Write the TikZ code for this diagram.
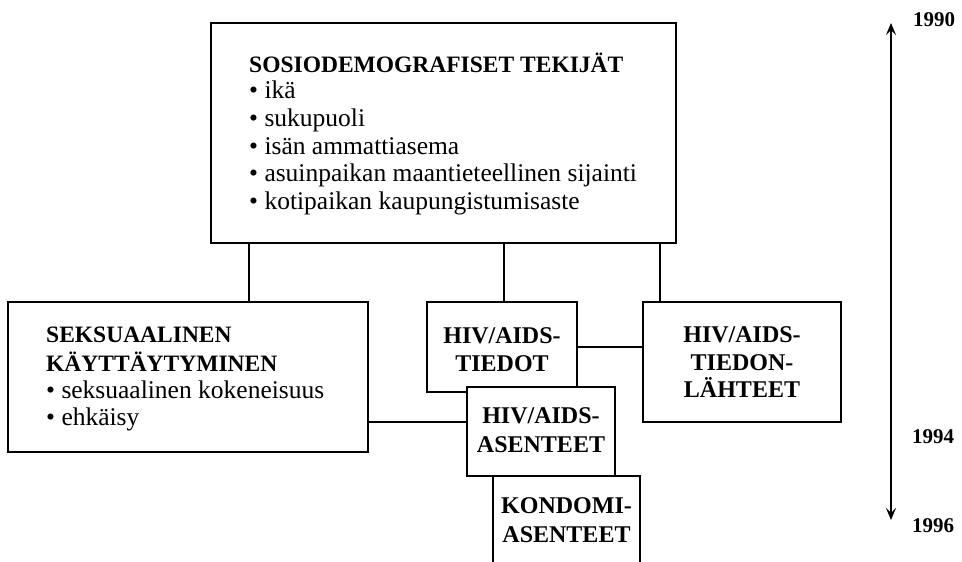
\documentclass[tikz,border=0pt]{standalone}
\usepackage{fontspec}
\setmainfont{Liberation Serif}
\usetikzlibrary{arrows.meta}
\tikzset{
  box/.style={draw, line width=1.4pt, fill=white, inner sep=0pt},
  ttl/.style={font=\bfseries\fontsize{23.5}{26}\selectfont, anchor=base west, inner sep=0pt},
  itm/.style={font=\fontsize{25.5}{27}\selectfont, anchor=base west, inner sep=0pt},
  cttl/.style={font=\bfseries\fontsize{24}{26}\selectfont, anchor=base, inner sep=0pt},
  yr/.style={font=\bfseries\fontsize{21}{22}\selectfont, anchor=base west, inner sep=0pt},
  conn/.style={line width=1.4pt},
  timeline/.style={line width=1.3pt, {Stealth[length=12pt,width=10pt,inset=5pt]}-{Stealth[length=12pt,width=10pt,inset=5pt]}}
}
\begin{document}
\begin{tikzpicture}[x=1pt,y=-1pt]
\useasboundingbox[fill=white] (0,0) rectangle (962,562);
% boxes
\node[box, minimum width=465pt, minimum height=220pt] (top) at (443.5,133) {};
\node[box, minimum width=360pt, minimum height=150pt] (lft) at (188,377) {};
\node[box, minimum width=198pt, minimum height=120pt] (src) at (742,362) {};
\node[box, minimum width=150pt, minimum height=90pt] (tie) at (502,347) {};
\node[box, minimum width=148pt, minimum height=89pt] (ase) at (541,431.5) {};
\node[box, minimum width=147pt, minimum height=124pt] (kon) at (566.5,538) {};
% connector positions
\coordinate (c1) at (249,0);
\coordinate (c2) at (504,0);
\coordinate (c3) at (660,0);
\coordinate (c4) at (0,422);
\coordinate (c5) at (0,347);
\draw[conn] (top.south -| c1) -- (lft.north -| c1);
\draw[conn] (top.south -| c2) -- (tie.north -| c2);
\draw[conn] (top.south -| c3) -- (src.north -| c3);
\draw[conn] (lft.east |- c4) -- (ase.west |- c4);
\draw[line width=2.2pt] (tie.east |- c5) -- (src.west |- c5);
% top box text
\node[ttl] (t0) at (249,72) {SOSIODEMOGRAFISET TEKIJÄT};
\node[itm] (t1) at (249,98) {• ikä};
\node[itm] (t2) at (249,126) {• sukupuoli};
\node[itm] (t3) at (249,154) {• isän ammattiasema};
\node[itm] (t4) at (249,181.5) {• asuinpaikan maantieteellinen sijainti};
\node[itm] (t5) at (249,209) {• kotipaikan kaupungistumisaste};
% left box text
\node[ttl] (l0) at (46,342) {SEKSUAALINEN};
\node[ttl] (l1) at (46,371) {KÄYTTÄYTYMINEN};
\node[itm] (l2) at (46,398) {• seksuaalinen kokeneisuus};
\node[itm] (l3) at (46,425) {• ehkäisy};
% HIV/AIDS-TIEDOT
\node[cttl] (d0) at (502,343) {HIV/AIDS-};
\node[cttl] (d1) at (502,371) {TIEDOT};
% HIV/AIDS-ASENTEET
\node[cttl] (a0) at (541,423) {HIV/AIDS-};
\node[cttl] (a1) at (541,452) {ASENTEET};
% KONDOMI-ASENTEET
\node[cttl] (k0) at (566.5,513) {KONDOMI-};
\node[cttl] (k1) at (566.5,542) {ASENTEET};
% TIEDONLÄHTEET
\node[cttl] (s0) at (742,342) {HIV/AIDS-};
\node[cttl] (s1) at (742,370) {TIEDON-};
\node[cttl] (s2) at (742,397) {LÄHTEET};
% timeline
\coordinate (y0) at (891,23);
\coordinate (y1) at (891,520);
\draw[timeline] (y0) -- (y1);
\node[yr] (n1990) at (913,27) {1990};
\node[yr] (n1994) at (912,443) {1994};
\node[yr] (n1996) at (912,532) {1996};
\end{tikzpicture}
\end{document}
